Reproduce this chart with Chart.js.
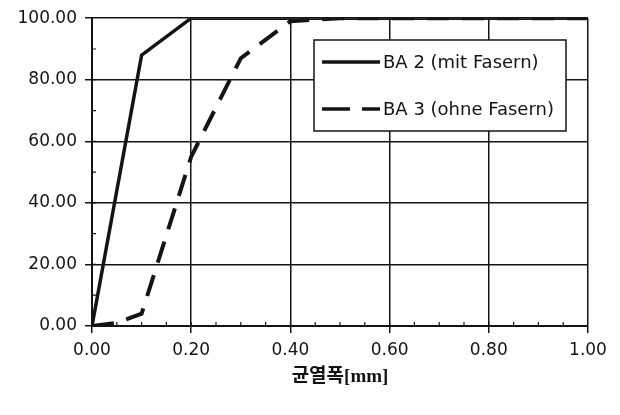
<!DOCTYPE html>
<html>
<head>
<meta charset="utf-8">
<script src="https://cdn.jsdelivr.net/npm/chart.js@4/dist/chart.umd.min.js"></script>
<style>
  html, body { margin: 0; padding: 0; background: #fff; }
  #wrap { width: 620px; height: 415px; position: relative; }
</style>
</head>
<body>
<div id="wrap"><canvas id="chart"></canvas></div>
<script>
// ── DATA ─────────────────────────────────────────────────────
var seriesNames = ['BA 2 (mit Fasern)', 'BA 3 (ohne Fasern)'];
var ba2X = [0, 0.10, 0.20, 0.40, 0.60, 0.80, 1.00];
var ba2Y = [0, 88, 100, 100, 100, 100, 100];
var ba3X = [0, 0.05, 0.10, 0.20, 0.30, 0.40, 0.50, 0.60, 0.80, 1.00];
var ba3Y = [0, 1, 4, 55, 87, 99, 100, 100, 100, 100];
var xTicks = [0, 0.2, 0.4, 0.6, 0.8, 1.0];
var yTicks = [0, 20, 40, 60, 80, 100];
var xTitle = '균열폭[mm]';

// ── HELPERS ──────────────────────────────────────────────────
function toPoints(xs, ys) {
  return xs.map(function (x, i) { return { x: x, y: ys[i] }; });
}

var INK = '#141414';
var TICK_FONT = { family: "'DejaVu Sans', 'Liberation Sans', sans-serif", size: 17 };

// minor ticks drawn inward from the axes
var minorTicks = {
  id: 'minorTicks',
  afterDatasetsDraw: function (chart) {
    var ctx = chart.ctx, xs = chart.scales.x, ys = chart.scales.y, a = chart.chartArea;
    ctx.save();
    ctx.strokeStyle = INK;
    ctx.lineWidth = 1.2;
    ctx.beginPath();
    for (var v = 0.05; v < 1; v += 0.05) {
      var px = xs.getPixelForValue(v);
      ctx.moveTo(px, a.bottom);
      ctx.lineTo(px, a.bottom - 4);
    }
    for (var w = 10; w < 100; w += 10) {
      var py = ys.getPixelForValue(w);
      ctx.moveTo(a.left, py);
      ctx.lineTo(a.left + 4, py);
    }
    ctx.stroke();
    ctx.restore();
  }
};

// boxed legend inside the plot
var boxLegend = {
  id: 'boxLegend',
  afterDraw: function (chart) {
    var ctx = chart.ctx;
    var bx = 314, by = 40, bw = 252, bh = 91;
    ctx.save();
    ctx.fillStyle = '#fff';
    ctx.fillRect(bx, by, bw, bh);
    ctx.strokeStyle = INK;
    ctx.lineWidth = 1.5;
    ctx.strokeRect(bx, by, bw, bh);
    ctx.font = '18px ' + TICK_FONT.family;
    ctx.fillStyle = INK;
    ctx.textBaseline = 'middle';
    chart.data.datasets.forEach(function (ds, i) {
      var y = by + 22 + i * 47;
      ctx.beginPath();
      ctx.lineWidth = 3.5;
      ctx.strokeStyle = INK;
      ctx.setLineDash(ds.borderDash && ds.borderDash.length ? [28, 12] : []);
      ctx.moveTo(bx + 8, y);
      ctx.lineTo(bx + 66, y);
      ctx.stroke();
      ctx.setLineDash([]);
      ctx.fillText(ds.label, bx + 69, y + 1);
    });
    ctx.restore();
  }
};

// ── CHART ────────────────────────────────────────────────────
new Chart(document.getElementById('chart'), {
  type: 'line',
  data: {
    datasets: [
      { label: seriesNames[0], data: toPoints(ba2X, ba2Y), borderColor: INK, borderWidth: 3.5,
        pointRadius: 0, tension: 0, fill: false },
      { label: seriesNames[1], data: toPoints(ba3X, ba3Y), borderColor: INK, borderWidth: 4,
        borderDash: [22, 13], pointRadius: 0, tension: 0, fill: false }
    ]
  },
  options: {
    responsive: true, maintainAspectRatio: false, animation: false,
    layout: { padding: { left: 0, right: 32, top: 16, bottom: 0 } },
    plugins: { legend: { display: false }, tooltip: { enabled: false } },
    scales: {
      x: {
        type: 'linear', min: 0, max: 1,
        afterBuildTicks: function (s) { s.ticks = xTicks.map(function (v) { return { value: v }; }); },
        afterFit: function (s) { s.height = 89; },
        ticks: { color: INK, font: TICK_FONT, padding: 7, maxRotation: 0,
          callback: function (v) { return Number(v).toFixed(2); } },
        grid: { color: INK, lineWidth: 1.5, tickLength: 7, tickColor: INK },
        border: { color: INK, width: 2 },
        title: { display: true, text: xTitle, color: INK,
          font: { family: "'Liberation Serif', 'Noto Sans CJK KR', serif", size: 19, weight: 'bold' },
          padding: { top: 0, bottom: 27 } }
      },
      y: {
        min: 0, max: 100,
        afterBuildTicks: function (s) { s.ticks = yTicks.map(function (v) { return { value: v }; }); },
        afterFit: function (s) { s.width = 92; },
        ticks: { color: INK, font: TICK_FONT, padding: 8,
          callback: function (v) { return Number(v).toFixed(2); } },
        grid: { color: INK, lineWidth: 1.5, tickLength: 7, tickColor: INK },
        border: { color: INK, width: 2 }
      }
    }
  },
  plugins: [minorTicks, boxLegend]
});
</script>
</body>
</html>
